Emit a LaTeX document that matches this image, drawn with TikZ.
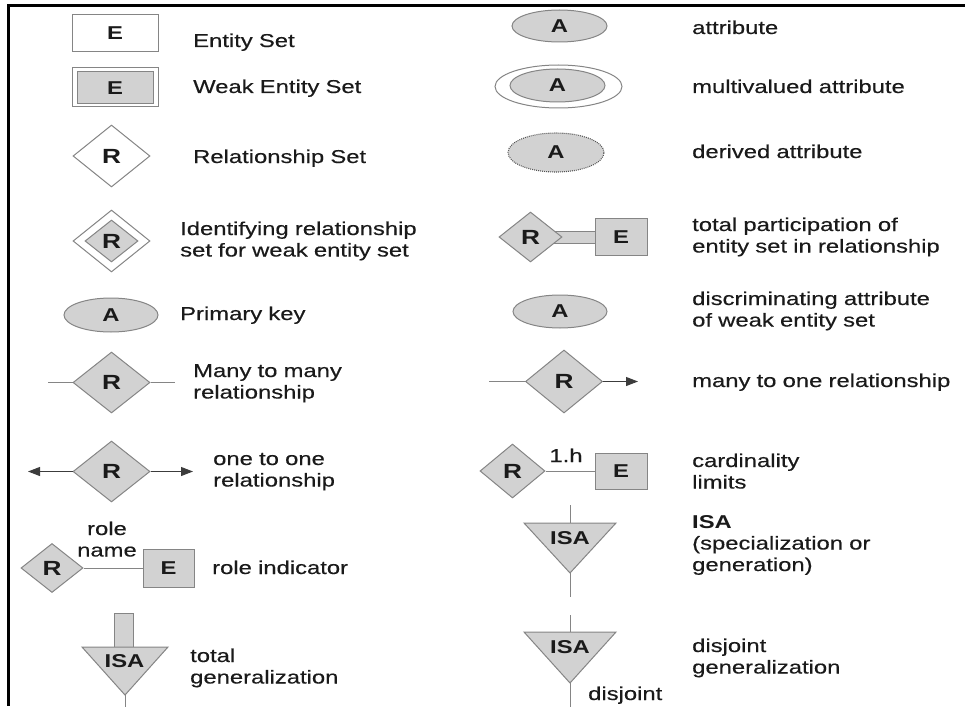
\documentclass[tikz,border=0pt]{standalone}
\usepackage{fontspec}
\setmainfont{Liberation Sans}[FakeStretch=1.28,UprightFeatures={FakeBold=0.4}]
\usetikzlibrary{shapes.geometric,arrows.meta,backgrounds}
\definecolor{shade}{HTML}{D2D2D2}
\definecolor{edge}{HTML}{858585}
\definecolor{ink}{HTML}{1A1A1A}
\newcommand{\legendfont}{\fontsize{18.6}{21.5}\selectfont}
\begin{document}
\begin{tikzpicture}[x=1pt,y=-1pt,
  font=\legendfont, text=ink,
  symb/.style={draw=edge,fill=shade,line width=1pt,inner sep=0pt,font=\legendfont\bfseries},
  ent/.style={symb,rectangle},
  rel/.style={symb,diamond,font=\fontsize{20.5}{22}\selectfont\bfseries},
  attr/.style={symb,ellipse},
  lbl/.style={anchor=base west,inner sep=0pt,align=left,text width=320pt},
  link/.style={draw=edge,line width=1pt},
  arr/.style={draw=ink!85,line width=1pt,-{Triangle[length=12pt,width=9pt]}},
  tri/.style={draw=edge,fill=shade,line width=1pt,line join=miter},
  isa/.style={inner sep=0pt,font=\legendfont\bfseries},
]
\useasboundingbox (0,0) rectangle (965,706);

% frame (top and left rules)
\draw[line width=2.5pt,black] (965,5.3) -- (8.7,5.3) -- (8.7,706);

%% ---------------- left column ----------------
% entity set
\node[ent,fill=white,minimum width=86pt,minimum height=37pt] (ent) at (115,33.5) {E};
\node[lbl] (entL) at (193,47) {Entity Set};

% weak entity set
\node[ent,fill=white,minimum width=86pt,minimum height=39pt] (weakOut) at (115,87.5) {};
\node[ent,minimum width=76pt,minimum height=32pt] (weakIn) at (115,88) {E};
\node[lbl] (weakL) at (193,93) {Weak Entity Set};

% relationship set
\node[rel,fill=white,minimum width=77pt,minimum height=62pt] (relset) at (111.5,156) {R};
\node[lbl] (relsetL) at (193,163) {Relationship Set};

% identifying relationship set
\node[rel,fill=white,minimum width=77pt,minimum height=62pt] (identOut) at (111.5,241) {};
\node[rel,minimum width=53pt,minimum height=42pt] (identIn) at (111.5,241) {R};
\node[lbl] (identL) at (180,235) {Identifying relationship\\set for weak entity set};

% primary key
\node[attr,minimum width=94pt,minimum height=34pt] (pkey) at (111,315) {A};
\node[lbl] (pkeyL) at (180,320) {Primary key};

% many to many
\node[rel,minimum width=77pt,minimum height=61pt] (mm) at (111.5,382.5) {R};
\coordinate (mmL) at (48,382.5);
\coordinate (mmR) at (175,382.5);
\draw[link] (mmL) -- (mm);
\draw[link] (mm) -- (mmR);
\node[lbl] (mmT) at (193,377) {Many to many\\relationship};

% one to one
\node[rel,minimum width=77pt,minimum height=61pt] (oo) at (111.5,471.5) {R};
\coordinate (ooL) at (28,471.5);
\coordinate (ooR) at (193,471.5);
\draw[arr] (oo) -- (ooL);
\draw[arr] (oo) -- (ooR);
\node[lbl] (ooT) at (213,465) {one to one\\relationship};

% role indicator
\node[rel,minimum width=62pt,minimum height=49pt] (roleR) at (52,568) {R};
\node[ent,minimum width=51pt,minimum height=38pt] (roleE) at (168.5,568) {E};
\draw[link] (roleR) -- (roleE);
\node[anchor=base,inner sep=0pt,align=center,text width=80pt] (roleName) at (107,535) {role\\name};
\node[lbl] (roleT) at (212,574) {role indicator};

% total generalization
\node[ent,minimum width=19pt,minimum height=34pt] (tgBar) at (123.5,630) {};
\draw[tri] (82,647) -- (168,647) -- (125,695) -- cycle;
\node[isa] (tgISA) at (124.5,661.5) {ISA};
\coordinate (tgTip) at (125,695);
\coordinate (tgEnd) at (125,708);
\draw[link] (tgTip) -- (tgEnd);
\node[lbl] (tgT) at (190,662) {total\\generalization};

%% ---------------- right column ----------------
% attribute
\node[attr,minimum width=95pt,minimum height=32pt] (attr) at (559.5,26) {A};
\node[lbl] (attrL) at (692,34) {attribute};

% multivalued attribute
\node[attr,fill=white,minimum width=127pt,minimum height=43pt] (multiOut) at (558.5,86.5) {};
\node[attr,minimum width=95pt,minimum height=33pt] (multiIn) at (557.5,85.5) {A};
\node[lbl] (multiL) at (692,93) {multivalued attribute};

% derived attribute
\node[attr,draw=ink!75,line width=1.1pt,dash pattern=on 0.9pt off 1.1pt,minimum width=96pt,minimum height=39pt] (derived) at (556,152.5) {A};
\node[lbl] (derivedL) at (692,158) {derived attribute};

% total participation
\node[rel,minimum width=63pt,minimum height=50pt] (tpR) at (530.5,237) {R};
\node[ent,minimum width=52pt,minimum height=37pt] (tpE) at (621,237) {E};
\begin{scope}[on background layer]
  \draw[draw=edge,line width=1pt,double=shade,double distance=11pt] (tpR.center) -- (tpE.west);
\end{scope}
\node[lbl] (tpT) at (692,231) {total participation of\\entity set in relationship};

% discriminating attribute
\node[attr,minimum width=94pt,minimum height=33pt] (disc) at (560,311.5) {A};
\node[lbl] (discT) at (692,305) {discriminating attribute\\of weak entity set};

% many to one
\node[rel,minimum width=77pt,minimum height=63pt] (mo) at (564,381.5) {R};
\coordinate (moL) at (489,381.5);
\coordinate (moR) at (638,381.5);
\draw[link] (moL) -- (mo);
\draw[arr] (mo) -- (moR);
\node[lbl] (moT) at (692,387) {many to one relationship};

% cardinality limits
\node[rel,minimum width=65pt,minimum height=54pt] (cdR) at (512.5,471) {R};
\node[ent,minimum width=52pt,minimum height=36pt] (cdE) at (621,471) {E};
\draw[link] (cdR) -- (cdE);
\node[anchor=base,inner sep=0pt] (cdLim) at (566,462) {1.h};
\node[lbl] (cdT) at (692,467) {cardinality\\limits};

% ISA
\coordinate (isaTop) at (570,505);
\coordinate (isaIn) at (570,523);
\coordinate (isaTip) at (570,573);
\coordinate (isaBot) at (570,597);
\draw[tri] (524,523) -- (616,523) -- (isaTip) -- cycle;
\node[isa] (isaA) at (570,538.5) {ISA};
\draw[link] (isaTop) -- (isaIn);
\draw[link] (isaTip) -- (isaBot);
\node[lbl] (isaT) at (692,528) {\textbf{ISA}\\(specialization or\\generation)};

% disjoint generalization
\coordinate (djTop) at (570,615);
\coordinate (djIn) at (570,632);
\coordinate (djTip) at (570,683);
\coordinate (djBot) at (570,708);
\draw[tri] (524,632) -- (616,632) -- (djTip) -- cycle;
\node[isa] (djA) at (570,647) {ISA};
\draw[link] (djTop) -- (djIn);
\draw[link] (djTip) -- (djBot);
\node[anchor=base west,inner sep=0pt] (djWord) at (588,700) {disjoint};
\node[lbl] (djT) at (692,652) {disjoint\\generalization};
\end{tikzpicture}
\end{document}
